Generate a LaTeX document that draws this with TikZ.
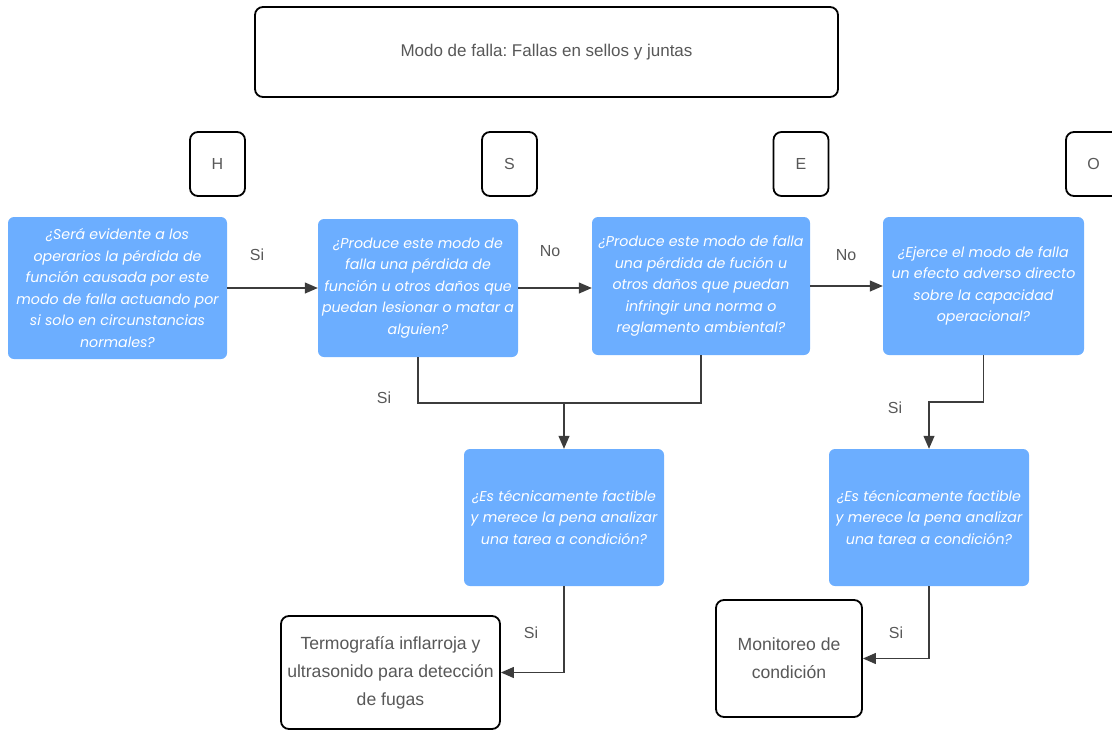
\documentclass[tikz,border=0pt]{standalone}
\usepackage{fontspec}
\setmainfont{Liberation Sans}
\newfontfamily\qfont{Poppins}
\usetikzlibrary{arrows.meta}
\frenchspacing
\definecolor{qblue}{RGB}{108,174,255}
\definecolor{txtgray}{RGB}{88,88,88}
\definecolor{linegray}{RGB}{60,60,60}
\tikzset{
  qbox/.style={fill=qblue, draw=none, rounded corners=6pt, align=center,
    text=white, font=\qfont\itshape\fontsize{14.2}{21.5}\selectfont, inner sep=0pt},
  obox/.style={draw=black, line width=1.8pt, rounded corners=8pt, fill=white,
    align=center, text=txtgray, inner sep=0pt},
  lbl/.style={text=txtgray, font=\fontsize{16}{18}\selectfont, inner sep=0pt},
  conn/.style={draw=linegray, line width=1.2pt},
  arr/.style={conn, -{Triangle[length=13pt,width=11pt]}},
}
\begin{document}
\begin{tikzpicture}[x=1pt,y=-1pt]
\useasboundingbox (0,0) rectangle (1112,731);
\clip (0,0) rectangle (1112,731);

% title
\node[obox, minimum width=583pt, minimum height=90pt,
  font=\fontsize{17}{20}\selectfont] (title) at (546.5,52) {Modo de falla: Fallas en sellos y juntas};

% category letters
\foreach \n/\l/\x in {cH/H/217.5, cS/S/509.5, cE/E/801, cO/O/1093.5}
  \node[obox, minimum width=55pt, minimum height=64pt,
    font=\fontsize{16}{20}\selectfont] (\n) at (\x,164) {\l};

% decision questions
\node[qbox, minimum width=219pt, minimum height=142pt] (b1) at (117.5,288)
  {¿Será evidente a los\\operarios la pérdida de\\función causada por este\\modo de falla actuando por\\si solo en circunstancias\\normales?};
\node[qbox, minimum width=200pt, minimum height=138pt] (b2) at (418,288)
  {¿Produce este modo de\\falla una pérdida de\\función u otros daños que\\puedan lesionar o matar a\\alguien?};
\node[qbox, minimum width=218pt, minimum height=138pt] (b3) at (701,286)
  {¿Produce este modo de falla\\una pérdida de fución u\\otros daños que puedan\\infringir una norma o\\reglamento ambiental?};
\node[qbox, minimum width=201pt, minimum height=138pt] (b4) at (983.5,286)
  {¿Ejerce el modo de falla\\un efecto adverso directo\\sobre la capacidad\\operacional?};
\node[qbox, minimum width=200pt, minimum height=137pt] (b5) at (564,517.5)
  {¿Es técnicamente factible\\y merece la pena analizar\\una tarea a condición?};
\node[qbox, minimum width=200pt, minimum height=137pt] (b6) at (929,517.5)
  {¿Es técnicamente factible\\y merece la pena analizar\\una tarea a condición?};

% resulting tasks
\node[obox, minimum width=219pt, minimum height=113pt,
  font=\fontsize{17.6}{28}\selectfont] (t1) at (390.5,672.5)
  {Termografía inflarroja y\\ultrasonido para detección\\de fugas};
\node[obox, minimum width=146pt, minimum height=117pt,
  font=\fontsize{17.6}{28}\selectfont] (t2) at (789,658.5)
  {Monitoreo de\\condición};

% connectors
\draw[arr] (b1.east) -- (b2.west);
\draw[arr] (b2.east) -- (b2.east -| b3.west);
\draw[arr] (b3.east) -- (b3.east -| b4.west);

\coordinate (j1) at (564,403);
\draw[conn] (b2.south) |- (j1) -| (b3.south);
\draw[arr] (j1) -- (b5.north);

\coordinate (j2) at (929,402);
\draw[arr] (b4.south) |- (j2) -- (b6.north);

\draw[arr] (b5.south) |- (t1.east);
\draw[arr] (b6.south) |- (t2.east);

% branch labels
\node[lbl] (l1) at (257,255) {Si};
\node[lbl] (l2) at (550,251) {No};
\node[lbl] (l3) at (846,255) {No};
\node[lbl] (l4) at (384,398) {Si};
\node[lbl] (l5) at (895,408) {Si};
\node[lbl] (l6) at (531,633) {Si};
\node[lbl] (l7) at (896,633) {Si};
\end{tikzpicture}
\end{document}
